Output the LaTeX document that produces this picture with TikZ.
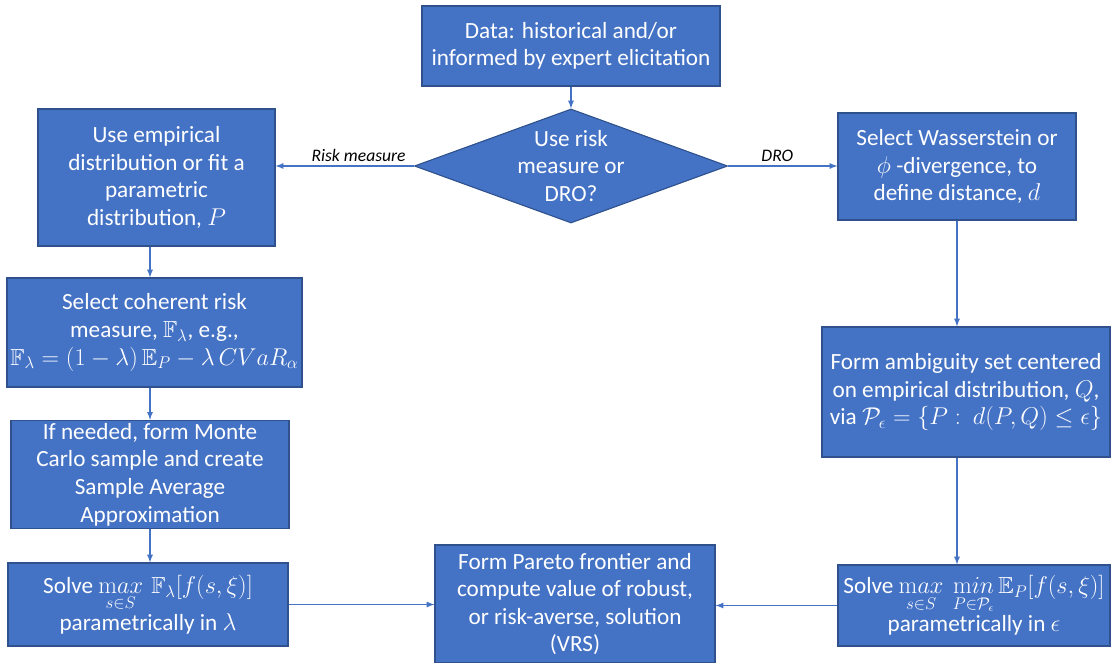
\documentclass[tikz,border=0pt]{standalone}
\usepackage{amsmath}
\usepackage{amssymb}
\usepackage[no-math]{fontspec}
\setmainfont{Carlito}
\usetikzlibrary{shapes,arrows}

\definecolor{boxblue}{RGB}{68,114,196}
\definecolor{edgeblue}{RGB}{47,82,143}

\begin{document}
\begin{tikzpicture}[x=0.025cm, y=-0.025cm,
    blockbox/.style={rectangle, draw=edgeblue, line width=0.8pt, fill=boxblue, text=white, align=center, inner sep=2pt, font=\fontsize{16.5}{19.6}\selectfont},
    choicebox/.style={diamond, aspect=2.85, draw=edgeblue, line width=0.8pt, fill=boxblue, text=white, align=center, inner sep=-0.1cm, font=\fontsize{16.5}{19.6}\selectfont},
    flowline/.style={draw=boxblue, line width=0.9pt, -latex},
    flowlabel/.style={font=\fontsize{12.5}{14}\selectfont\itshape, text=black, inner sep=3pt}]
    %  \draw[help lines] (0, 0) grid[step=100] (1112, 663);
      \useasboundingbox (0, 0) rectangle (1112, 663);

      \node [blockbox, minimum height= 2cm, minimum width = 7.45cm] (data) at (571, 46) {Data: historical and/or\\informed by expert elicitation};
      \node [choicebox, minimum height= 2.85cm, minimum width = 7.825cm] (dec) at (571, 166) {Use risk\\measure or\\DRO?};

      \node [blockbox, minimum height= 3.425cm, minimum width = 5.925cm] (lb1) at (156.5, 177.5) {Use empirical\\distribution or fit a\\parametric\\distribution, $P$};
      \node [blockbox, minimum height= 2.725cm, minimum width = 7.375cm] (lb2) at (154.5, 332.5) {Select coherent risk\\measure, $\mathbb{F}_\lambda$, e.g.,\\$\mathbb{F}_\lambda = (1-\lambda)\,\mathbb{E}_P - \lambda\, CVaR_\alpha$};
      \node [blockbox, minimum height= 2.675cm, minimum width = 6.95cm] (lb3) at (150, 474.5) {If needed, form Monte\\Carlo sample and create\\Sample Average\\Approximation};
      \node [blockbox, minimum height= 2.075cm, minimum width = 7cm] (lb4) at (148, 604.5) {Solve $\mathop{\mathrm{m}ax}\limits_{s\in S}\, \mathbb{F}_\lambda[f(s,\xi)]$\\parametrically in $\lambda$};

      \node [blockbox, minimum height= 2.95cm, minimum width = 7cm] (cb) at (575, 604) {Form Pareto frontier and\\compute value of robust,\\or risk-averse, solution\\(VRS)};

      \node [blockbox, minimum height= 2.675cm, minimum width = 5.95cm] (rb1) at (957, 166.5) {Select Wasserstein or\\$\phi$ -divergence, to\\define distance, $d$};
      \node [blockbox, minimum height= 3.25cm, minimum width = 7.2cm] (rb2) at (966, 392) {Form ambiguity set centered\\on empirical distribution, $Q$,\\via $\mathcal{P}_\epsilon = \{P:\ d(P,Q) \le \epsilon\}$};
      \node [blockbox, minimum height= 2.025cm, minimum width = 6.8cm] (rb3) at (974, 605.5) {Solve $\mathop{\mathrm{m}ax}\limits_{s\in S}\ \mathop{\mathrm{m}in}\limits_{P\in\mathcal{P}_\epsilon}\mathbb{E}_P[f(s,\xi)]$\\parametrically in $\epsilon$};



      \draw[flowline] (data.south) -- (dec.north);
      \draw[flowline] (dec.west) -- (dec.west -| lb1.east) node[flowlabel, above, pos=0.4] (lblrisk) {Risk measure};
      \draw[flowline] (dec.east) -- (dec.east -| rb1.west) node[flowlabel, above, pos=0.45] (lbldro) {DRO};

      \draw[flowline] (lb1.south -| lb3) -- (lb2.north -| lb3);
      \draw[flowline] (lb2.south -| lb3) -- (lb3.north);
      \draw[flowline] (lb3.south) -- (lb3.south |- lb4.north);
      \draw[flowline] (lb4.east) -- (lb4.east -| cb.west);

      \draw[flowline] (rb1.south) -- (rb1.south |- rb2.north);
      \draw[flowline] (rb2.south -| rb1) -- (rb1 |- rb3.north);
      \draw[flowline] (rb3.west) -- (rb3.west -| cb.east);
    \end{tikzpicture}
\end{document}
